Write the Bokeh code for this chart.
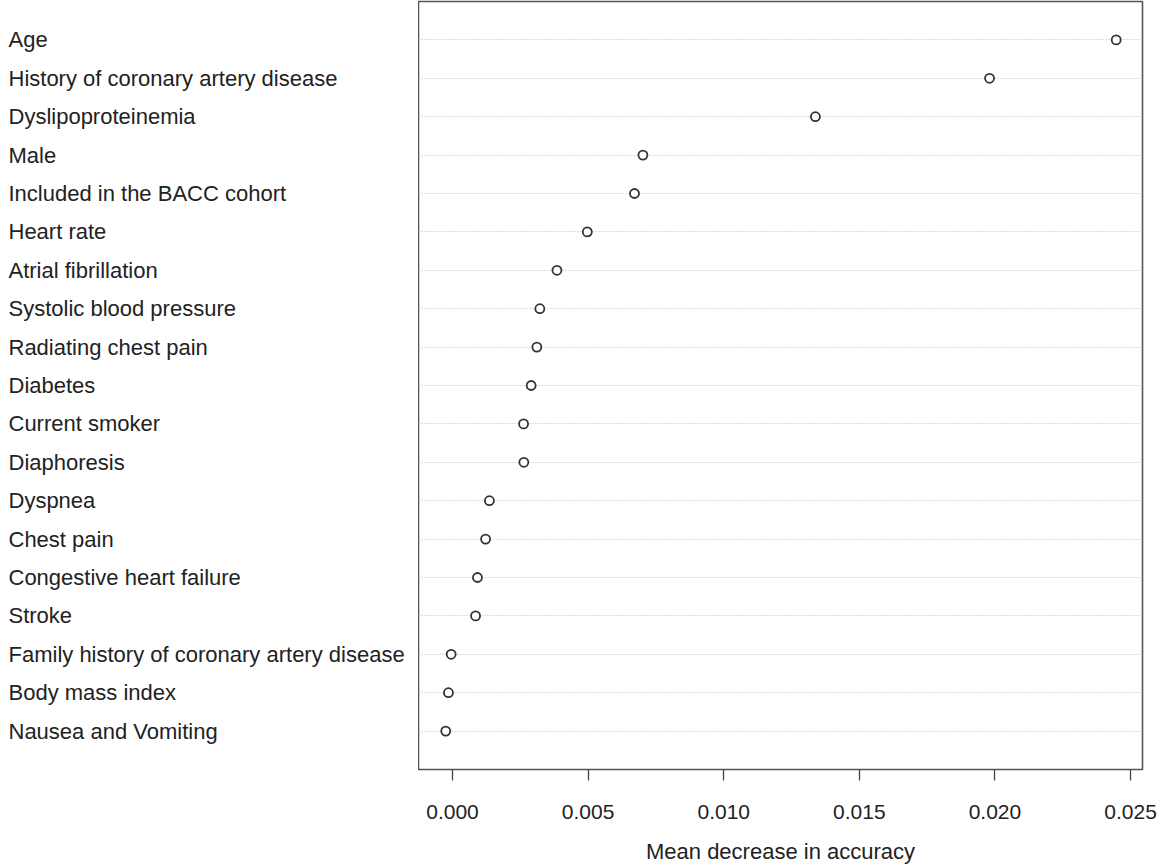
from bokeh.plotting import figure
from bokeh.models import ColumnDataSource, FixedTicker, PrintfTickFormatter, Range1d
from bokeh.layouts import row
from bokeh.core.properties import value
from bokeh.embed import file_html
from bokeh.resources import INLINE

variables = [
    "Age",
    "History of coronary artery disease",
    "Dyslipoproteinemia",
    "Male",
    "Included in the BACC cohort",
    "Heart rate",
    "Atrial fibrillation",
    "Systolic blood pressure",
    "Radiating chest pain",
    "Diabetes",
    "Current smoker",
    "Diaphoresis",
    "Dyspnea",
    "Chest pain",
    "Congestive heart failure",
    "Stroke",
    "Family history of coronary artery disease",
    "Body mass index",
    "Nausea and Vomiting",
]
mean_decrease_accuracy = [
    0.02447, 0.01980, 0.01338, 0.00702, 0.00671, 0.00497, 0.00385,
    0.00322, 0.00311, 0.00290, 0.00262, 0.00263, 0.00136, 0.00122,
    0.00092, 0.00085, -0.00005, -0.00015, -0.00025,
]
x_ticks = [0.000, 0.005, 0.010, 0.015, 0.020, 0.025]

n = len(variables)
rows = list(range(n, 0, -1))

src = ColumnDataSource(dict(
    name=variables,
    val=mean_decrease_accuracy,
    row=rows,
    lx=[8] * n,
))

FONT = "Liberation Sans"
y_range = Range1d(0, n + 1)

# left panel holding the variable names (left-aligned, like R's dotchart)
lp = figure(
    frame_width=418, frame_height=768,
    x_range=Range1d(0, 418), y_range=y_range,
    output_backend="svg", toolbar_location=None,
    x_axis_location=None, y_axis_location=None,
    min_border_left=0, min_border_right=0, min_border_top=1, min_border_bottom=99,
)
lp.outline_line_color = None
lp.grid.visible = False
lp.background_fill_color = "white"
lp.border_fill_color = "white"
lp.text("lx", "row", text="name", source=src,
        text_font=value(FONT), text_font_size="22px", text_color="#222222",
        text_align="left", text_baseline="middle")

p = figure(
    frame_width=724, frame_height=768,
    x_range=Range1d(-0.001254, 0.02544), y_range=y_range,
    output_backend="svg", toolbar_location=None,
    y_axis_location=None,
    min_border_left=0, min_border_right=15, min_border_top=1, min_border_bottom=99,
)
p.background_fill_color = "white"
p.border_fill_color = "white"
p.outline_line_color = "#555555"
p.outline_line_width = 1.6

p.xgrid.visible = False
p.ygrid.ticker = FixedTicker(ticks=rows)
p.ygrid.grid_line_color = "#b8b8b8"
p.ygrid.grid_line_dash = "1 2"
p.ygrid.grid_line_width = 1

ax = p.xaxis[0]
ax.ticker = FixedTicker(ticks=x_ticks)
ax.formatter = PrintfTickFormatter(format="%.3f")
ax.axis_line_color = None
ax.major_tick_line_color = "#444444"
ax.major_tick_line_width = 1.3
ax.major_tick_out = 11
ax.major_tick_in = 0
ax.minor_tick_line_color = None
ax.major_label_standoff = 24
ax.major_label_text_font = FONT
ax.major_label_text_font_size = "21px"
ax.major_label_text_color = "#222222"
ax.axis_label = "Mean decrease in accuracy"
ax.axis_label_text_font = FONT
ax.axis_label_text_font_size = "22px"
ax.axis_label_text_font_style = "normal"
ax.axis_label_text_color = "#222222"
ax.axis_label_standoff = 17

p.scatter("val", "row", source=src, size=9, marker="circle",
          fill_color="white", line_color="#333333", line_width=1.8)

layout = row(lp, p, spacing=0)

open("out.html", "w").write(file_html(layout, INLINE))
